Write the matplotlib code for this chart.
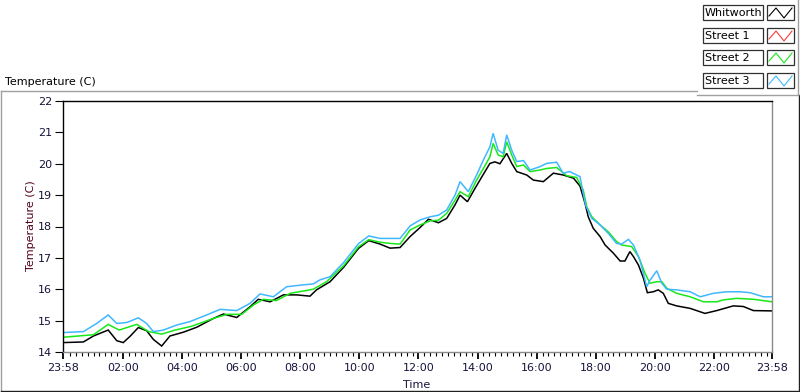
import matplotlib
matplotlib.use("Agg")
import matplotlib.pyplot as plt
from matplotlib.lines import Line2D
from matplotlib.patches import Rectangle
from matplotlib.ticker import FixedLocator, NullFormatter

plt.rcParams['font.family'] = ['DejaVu Sans']

# ---- data (hours elapsed since 23:58) ----
whitworth_t = [0.0, 0.69, 1.03, 1.53, 1.82, 2.04, 2.27, 2.55, 2.83, 3.06, 3.34, 3.62, 4.07, 4.53,
               5.09, 5.43, 5.88, 6.33, 6.61, 7.01, 7.46, 7.91, 8.36, 8.58, 9.04, 9.5, 10.0, 10.35,
               10.73, 11.07, 11.41, 11.75, 12.09, 12.37, 12.71, 12.99, 13.27, 13.44, 13.69, 13.95,
               14.17, 14.45, 14.62, 14.79, 15.02, 15.19, 15.36, 15.70, 15.92, 16.26, 16.6, 16.94,
               17.28, 17.5, 17.67, 17.78, 17.95, 18.18, 18.35, 18.63, 18.86, 19.02, 19.19, 19.31,
               19.48, 19.65, 19.78, 19.98, 20.15, 20.32, 20.49, 20.77, 21.23, 21.73, 22.13, 22.69,
               23.03, 23.37, 24.0]
whitworth_v = [14.30, 14.32, 14.51, 14.70, 14.36, 14.30, 14.50, 14.78, 14.68, 14.40, 14.19, 14.51,
               14.63, 14.79, 15.07, 15.21, 15.10, 15.44, 15.68, 15.60, 15.82, 15.82, 15.78, 15.98,
               16.24, 16.70, 17.30, 17.55, 17.44, 17.31, 17.33, 17.68, 17.97, 18.23, 18.12, 18.26,
               18.69, 19.00, 18.79, 19.22, 19.57, 20.01, 20.06, 20.00, 20.33, 20.01, 19.75, 19.64,
               19.48, 19.43, 19.70, 19.64, 19.54, 19.29, 18.74, 18.31, 17.94, 17.68, 17.41, 17.15,
               16.90, 16.90, 17.20, 17.04, 16.77, 16.35, 15.89, 15.92, 15.98, 15.87, 15.55, 15.47,
               15.39, 15.23, 15.32, 15.47, 15.45, 15.32, 15.31]

street1_t = []
street1_v = []

street2_t = [0.0, 1.03, 1.53, 1.9, 2.5, 2.9, 3.34, 3.8, 4.35, 5.09, 5.55, 6.05, 6.45, 6.78, 7.23,
             7.69, 8.47, 8.92, 9.5, 10.0, 10.35, 10.73, 11.07, 11.41, 11.75, 12.09, 12.43, 12.71,
             12.99, 13.27, 13.44, 13.72, 14.0, 14.23, 14.45, 14.56, 14.73, 14.90, 15.02, 15.19,
             15.36, 15.59, 15.81, 16.15, 16.37, 16.71, 17.05, 17.39, 17.61, 17.73, 17.90, 18.18,
             18.46, 18.74, 18.91, 19.25, 19.48, 19.70, 19.87, 20.1, 20.27, 20.44, 20.77, 21.23,
             21.68, 22.13, 22.35, 22.80, 23.37, 24.0]
street2_v = [14.47, 14.55, 14.88, 14.70, 14.88, 14.65, 14.57, 14.70, 14.82, 15.07, 15.20, 15.20,
             15.50, 15.68, 15.64, 15.87, 16.00, 16.24, 16.75, 17.35, 17.58, 17.50, 17.46, 17.44,
             17.89, 18.05, 18.18, 18.20, 18.42, 18.84, 19.11, 18.95, 19.48, 19.85, 20.22, 20.65,
             20.28, 20.22, 20.70, 20.28, 19.91, 19.96, 19.75, 19.80, 19.85, 19.88, 19.62, 19.56,
             19.16, 18.63, 18.31, 18.05, 17.83, 17.52, 17.41, 17.36, 17.04, 16.51, 16.19, 16.24,
             16.24, 16.03, 15.87, 15.76, 15.60, 15.60, 15.66, 15.71, 15.68, 15.60]

street3_t = [0.0, 0.69, 1.14, 1.53, 1.82, 2.16, 2.55, 2.83, 3.06, 3.40, 3.85, 4.30, 4.86, 5.32,
             5.88, 6.33, 6.67, 7.12, 7.57, 8.13, 8.47, 8.70, 9.04, 9.5, 10.0, 10.35, 10.73, 11.07,
             11.41, 11.75, 12.09, 12.43, 12.71, 12.99, 13.27, 13.44, 13.72, 14.0, 14.23, 14.45,
             14.56, 14.73, 14.90, 15.02, 15.19, 15.36, 15.59, 15.81, 16.15, 16.37, 16.71, 16.93,
             17.15, 17.50, 17.69, 17.90, 18.18, 18.46, 18.74, 18.91, 19.14, 19.31, 19.53, 19.76,
             19.87, 20.10, 20.27, 20.44, 20.77, 21.23, 21.57, 22.01, 22.47, 22.92, 23.26, 23.71,
             24.0]
street3_v = [14.62, 14.65, 14.91, 15.18, 14.91, 14.94, 15.09, 14.91, 14.65, 14.70, 14.86, 14.97,
             15.18, 15.36, 15.32, 15.55, 15.85, 15.76, 16.08, 16.14, 16.17, 16.30, 16.40, 16.85,
             17.45, 17.70, 17.62, 17.62, 17.62, 18.02, 18.21, 18.31, 18.36, 18.53, 19.00, 19.43,
             19.11, 19.64, 20.12, 20.54, 20.97, 20.43, 20.33, 20.92, 20.43, 20.07, 20.10, 19.80,
             19.91, 20.01, 20.05, 19.70, 19.75, 19.59, 18.68, 18.26, 18.05, 17.78, 17.46, 17.44,
             17.59, 17.41, 16.93, 16.08, 16.29, 16.59, 16.19, 16.00, 15.98, 15.92, 15.76, 15.87,
             15.92, 15.92, 15.89, 15.76, 15.76]

series_names = ["Whitworth", "Street 1", "Street 2", "Street 3"]
series_colors = ["#000000", "#ff3a3a", "#18e818", "#40b8ff"]

x_tick_hours = [0.0, 2 + 2 / 60, 4 + 2 / 60, 6 + 2 / 60, 8 + 2 / 60, 10 + 2 / 60, 12 + 2 / 60,
                14 + 2 / 60, 16 + 2 / 60, 18 + 2 / 60, 20 + 2 / 60, 22 + 2 / 60, 24.0]
x_tick_labels = ["23:58", "02:00", "04:00", "06:00", "08:00", "10:00", "12:00", "14:00",
                 "16:00", "18:00", "20:00", "22:00", "23:58"]
y_ticks = [14, 15, 16, 17, 18, 19, 20, 21, 22]

W, H = 800, 392
fig = plt.figure(figsize=(W / 100, H / 100), dpi=100)
fig.patch.set_facecolor("white")

def fx(x):
    return x / W

def fy(y):
    return 1 - y / H

ax = fig.add_axes([fx(63), fy(352), fx(772) - fx(63), fy(101) - fy(352)])
ax.set_facecolor("white")

all_t = [whitworth_t, street1_t, street2_t, street3_t]
all_v = [whitworth_v, street1_v, street2_v, street3_v]
for t, v, c in zip(all_t, all_v, series_colors):
    ax.plot(t, v, color=c, lw=1.1, solid_joinstyle="miter")

ax.set_xlim(0, 24)
ax.set_ylim(14, 22)

tick_color = "#14143c"
ax.xaxis.set_major_locator(FixedLocator(x_tick_hours))
ax.set_xticklabels(x_tick_labels)
minor = [k * 0.2 + 2 / 60 for k in range(0, 121) if k % 10 != 0]
ax.xaxis.set_minor_locator(FixedLocator(minor))
ax.xaxis.set_minor_formatter(NullFormatter())
ax.set_yticks(y_ticks)
ax.set_yticklabels([str(v) for v in y_ticks])

ax.tick_params(axis="x", which="major", length=5, width=1.3, color="black", pad=3,
               labelsize=8, labelcolor=tick_color)
ax.tick_params(axis="x", which="minor", length=3, width=0.8, color="black")
ax.tick_params(axis="y", which="major", length=6, width=0.8, color="black", pad=2,
               labelsize=8, labelcolor=tick_color)

for side in ["top", "left"]:
    ax.spines[side].set_color("black")
    ax.spines[side].set_linewidth(1.0)
for side in ["right", "bottom"]:
    ax.spines[side].set_color("#8a8a8a")
    ax.spines[side].set_linewidth(1.0)

fig.text(fx(417), fy(385), "Time", ha="center", va="center", fontsize=8, color=tick_color)
fig.text(fx(31), fy(226), "Temperature (C)", ha="center", va="center", rotation=90,
         fontsize=8, color="#500020")
fig.text(fx(5), fy(82), "Temperature (C)", ha="left", va="center", fontsize=8, color="black")

# outer frame
def fline(x0, y0, x1, y1, color, lw=1.0):
    fig.add_artist(Line2D([fx(x0), fx(x1)], [fy(y0), fy(y1)], color=color, lw=lw,
                          transform=fig.transFigure))

fline(1, 91, 697, 91, "#a0a0a0")
fline(1, 91, 1, 391, "#a0a0a0")
fline(1, 391, 799, 391, "#202020")
fline(799, 95, 799, 391, "#202020")
fline(697, 95, 798, 95, "#a0a0a0")
fline(798, 0, 798, 95, "#a0a0a0")

# legend
rows = [5, 28, 50, 73]
for name, color, y0 in zip(series_names, series_colors, rows):
    fig.add_artist(Rectangle((fx(703), fy(y0 + 15)), fx(763) - fx(703), fy(y0) - fy(y0 + 15),
                             transform=fig.transFigure, facecolor="white",
                             edgecolor="#303030", lw=0.9))
    fig.add_artist(Rectangle((fx(767), fy(y0 + 15)), fx(794) - fx(767), fy(y0) - fy(y0 + 15),
                             transform=fig.transFigure, facecolor="white",
                             edgecolor="#303030", lw=0.9))
    fig.text(fx(705), fy(y0 + 7.8), name, ha="left", va="center", fontsize=8, color="black")
    xs = [fx(769), fx(776), fx(784), fx(792)]
    ys = [fy(y0 + 11), fy(y0 + 3), fy(y0 + 13), fy(y0 + 3)]
    fig.add_artist(Line2D(xs, ys, color=color, lw=0.8, transform=fig.transFigure))

fig.savefig("out.png", dpi=100, facecolor="white")
